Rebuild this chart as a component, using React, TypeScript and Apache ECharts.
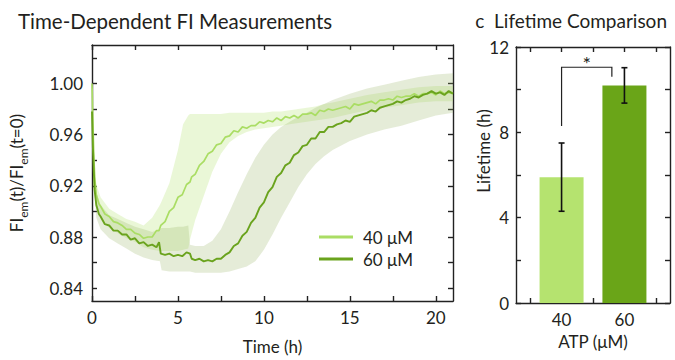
import React, { useEffect, useRef } from 'react';
import * as echarts from 'echarts';

// ---------- Panel b: time-dependent FI ----------
const lineTime = [
  0, 0.05, 0.1, 0.15, 0.25, 0.4, 0.5, 0.75, 1, 1.25,
  1.5, 1.75, 2, 2.25, 2.5, 2.75, 3, 3.25, 3.5, 3.75,
  3.9, 4.0, 4.25, 4.5, 4.75, 5, 5.25, 5.5, 5.7, 5.8,
  6, 6.25, 6.5, 6.75, 7, 7.25, 7.5, 7.75, 8, 8.25,
  8.5, 8.75, 9, 9.25, 9.5, 9.75, 10, 10.25, 10.5, 10.75,
  11, 11.25, 11.5, 11.75, 12, 12.25, 12.5, 12.75, 13, 13.25,
  13.5, 13.75, 14, 14.25, 14.5, 14.75, 15, 15.25, 15.5, 15.75,
  16, 16.25, 16.5, 16.75, 17, 17.25, 17.5, 17.75, 18, 18.25,
  18.5, 18.75, 19, 19.25, 19.5, 19.75, 20, 20.25, 20.5, 20.75,
  21,
];
const fi40 = [
  1.000, 0.971, 0.945, 0.927, 0.913, 0.906, 0.904, 0.898, 0.896, 0.892,
  0.891, 0.889, 0.886, 0.886, 0.883, 0.882, 0.879, 0.880, 0.880, 0.885,
  0.885, 0.889, 0.892, 0.900, 0.903, 0.911, 0.913, 0.921, 0.923, 0.927,
  0.929, 0.936, 0.939, 0.945, 0.947, 0.952, 0.953, 0.958, 0.959, 0.963,
  0.962, 0.966, 0.965, 0.967, 0.967, 0.970, 0.969, 0.971, 0.970, 0.973,
  0.971, 0.974, 0.973, 0.975, 0.973, 0.976, 0.976, 0.977, 0.975, 0.979,
  0.978, 0.980, 0.979, 0.980, 0.981, 0.982, 0.980, 0.984, 0.983, 0.984,
  0.985, 0.986, 0.984, 0.987, 0.987, 0.988, 0.987, 0.990, 0.989, 0.990,
  0.990, 0.992, 0.990, 0.992, 0.992, 0.993, 0.991, 0.994, 0.992, 0.993,
  0.992,
];
const fi60 = [
  0.978, 0.951, 0.933, 0.917, 0.905, 0.898, 0.896, 0.890, 0.889, 0.885,
  0.885, 0.882, 0.882, 0.878, 0.879, 0.875, 0.876, 0.873, 0.874, 0.872,
  0.876, 0.867, 0.866, 0.867, 0.865, 0.866, 0.865, 0.868, 0.867, 0.863,
  0.862, 0.863, 0.861, 0.862, 0.861, 0.863, 0.863, 0.866, 0.868, 0.873,
  0.875, 0.881, 0.884, 0.891, 0.895, 0.903, 0.907, 0.915, 0.919, 0.927,
  0.930, 0.936, 0.938, 0.944, 0.946, 0.951, 0.952, 0.957, 0.957, 0.962,
  0.962, 0.966, 0.966, 0.968, 0.969, 0.971, 0.970, 0.974, 0.975, 0.976,
  0.977, 0.979, 0.978, 0.981, 0.982, 0.983, 0.984, 0.986, 0.985, 0.987,
  0.988, 0.990, 0.989, 0.991, 0.992, 0.994, 0.992, 0.993, 0.991, 0.994,
  0.992,
];

const bandTime = [
  0, 0.1, 0.25, 0.5, 1, 1.5, 2, 2.5, 3, 3.5,
  3.95, 4.05, 4.5, 5, 5.3, 5.6, 5.7, 6, 6.5, 7,
  7.5, 8, 8.5, 9, 9.5, 10, 10.5, 11, 11.5, 12,
  12.5, 13, 13.5, 14, 15, 16, 17, 18, 19, 20,
  21,
];
const band40Low = [
  1.000, 0.938, 0.905, 0.896, 0.887, 0.883, 0.879, 0.876, 0.872, 0.870,
  0.869, 0.869, 0.869, 0.869, 0.870, 0.871, 0.878, 0.893, 0.912, 0.931,
  0.945, 0.954, 0.959, 0.962, 0.964, 0.965, 0.966, 0.967, 0.968, 0.969,
  0.970, 0.971, 0.972, 0.973, 0.976, 0.979, 0.981, 0.983, 0.985, 0.986,
  0.986,
];
const band40High = [
  1.000, 0.952, 0.921, 0.911, 0.902, 0.898, 0.894, 0.892, 0.889, 0.895,
  0.905, 0.908, 0.922, 0.948, 0.968, 0.975, 0.976, 0.976, 0.976, 0.976,
  0.976, 0.977, 0.977, 0.977, 0.977, 0.977, 0.978, 0.978, 0.979, 0.980,
  0.981, 0.982, 0.984, 0.985, 0.988, 0.991, 0.993, 0.995, 0.997, 0.998,
  0.998,
];
const band60Low = [
  0.978, 0.924, 0.895, 0.886, 0.879, 0.875, 0.871, 0.867, 0.864, 0.862,
  0.861, 0.854, 0.853, 0.853, 0.853, 0.853, 0.853, 0.852, 0.852, 0.852,
  0.852, 0.853, 0.855, 0.857, 0.861, 0.870, 0.882, 0.895, 0.907, 0.919,
  0.929, 0.937, 0.943, 0.948, 0.955, 0.960, 0.964, 0.967, 0.971, 0.975,
  0.977,
];
const band60High = [
  0.978, 0.942, 0.915, 0.905, 0.897, 0.894, 0.891, 0.888, 0.886, 0.884,
  0.886, 0.887, 0.887, 0.888, 0.888, 0.889, 0.874, 0.873, 0.873, 0.877,
  0.886, 0.900, 0.915, 0.929, 0.942, 0.952, 0.960, 0.966, 0.970, 0.974,
  0.977, 0.981, 0.984, 0.987, 0.992, 0.996, 0.999, 1.002, 1.005, 1.007,
  1.008,
];

const timeTicks = [0, 2.5, 5, 7.5, 10, 12.5, 15, 17.5, 20];
const timeLabels = [0, 5, 10, 15, 20];
const fiTicks = [0.84, 0.86, 0.88, 0.9, 0.92, 0.94, 0.96, 0.98, 1.0, 1.02];
const fiLabels = [0.84, 0.88, 0.92, 0.96, 1.0];
const seriesNames = ['40 \u03bcM', '60 \u03bcM'];

// ---------- Panel c: lifetime comparison ----------
const atpValues = [40, 60];
const lifetime = [5.9, 10.2];
const lifetimeErr = [1.6, 0.83];
const atpTicks = [30, 40, 50, 60, 70];
const sigBracket = [40, 56, 11.05, 8.3, 10.6]; // x1, x2, top, left foot, right foot

const FONT = 'Lato';
const TXT = '#231f20';
const C40 = '#aadd64';
const C60 = '#6aa31d';
const BAR40 = '#b5e36f';
const BAR60 = '#6aa518';
const BAND40 = 'rgba(200,235,150,0.38)';
const BAND60 = 'rgba(150,178,100,0.25)';

const frameLine = { show: true, onZero: false, lineStyle: { color: '#222', width: 1.4 } };

function bandRenderer(low: number[], high: number[], fill: string) {
  return (_params: any, api: any) => {
    const pts: number[][] = [];
    for (let i = 0; i < bandTime.length; i++) pts.push(api.coord([bandTime[i], high[i]]));
    for (let i = bandTime.length - 1; i >= 0; i--) pts.push(api.coord([bandTime[i], low[i]]));
    return { type: 'polygon', shape: { points: pts }, style: { fill }, silent: true };
  };
}

export default function App() {
  const ref = useRef<HTMLDivElement>(null);
  useEffect(() => {
    if (!ref.current) return;
    const chart = echarts.init(ref.current, undefined, { renderer: 'svg' });
    const tick = (vals: number[]) => ({
      show: true,
      inside: true,
      length: 5,
      customValues: vals,
      lineStyle: { color: '#222', width: 1.4 },
    });
    const labelStyle = { fontFamily: FONT, fontSize: 17, color: TXT };
    const nameStyle = { fontFamily: FONT, fontSize: 17, color: TXT };
    const option: any = {
      animation: false,
      backgroundColor: '#fff',
      textStyle: { fontFamily: FONT },
      title: [
        { text: 'Time-Dependent FI Measurements', left: 13, top: 5, textStyle: { fontFamily: FONT, fontSize: 20.5, fontWeight: 'normal', color: TXT } },
        { text: 'c  Lifetime Comparison', right: 3, top: 6, textStyle: { fontFamily: FONT, fontSize: 19, fontWeight: 'normal', color: TXT } },
      ],
      legend: {
        data: seriesNames,
        orient: 'vertical',
        left: 314,
        top: 223,
        icon: 'rect',
        itemWidth: 34,
        itemHeight: 3,
        itemGap: 4,
        textStyle: { fontFamily: FONT, fontSize: 17, color: TXT, padding: [0, 0, 0, 5], lineHeight: 18 },
      },
      grid: [
        { left: 90, top: 45, width: 363, height: 258 },
        { left: 516, top: 47, width: 154, height: 256 },
      ],
      xAxis: [
        {
          gridIndex: 0, type: 'value', min: 0, max: 21, position: 'bottom',
          axisLine: frameLine, axisTick: tick(timeTicks), splitLine: { show: false },
          axisLabel: { ...labelStyle, customValues: timeLabels, margin: 8 },
          name: 'Time (h)', nameLocation: 'middle', nameGap: 37, nameTextStyle: nameStyle,
        },
        {
          gridIndex: 0, type: 'value', min: 0, max: 21, position: 'top',
          axisLine: frameLine, axisTick: tick(timeTicks), splitLine: { show: false },
          axisLabel: { show: false },
        },
        {
          gridIndex: 1, type: 'value', min: 25.5, max: 74.5, position: 'bottom',
          axisLine: frameLine, axisTick: tick(atpTicks), splitLine: { show: false },
          axisLabel: { ...labelStyle, customValues: atpValues, margin: 8 },
          name: 'ATP (\u03bcM)', nameLocation: 'middle', nameGap: 30, nameTextStyle: nameStyle,
        },
        {
          gridIndex: 1, type: 'value', min: 25.5, max: 74.5, position: 'top',
          axisLine: frameLine, axisTick: tick(atpTicks), splitLine: { show: false },
          axisLabel: { show: false },
        },
      ],
      yAxis: [
        {
          gridIndex: 0, type: 'value', min: 0.83, max: 1.03, position: 'left',
          axisLine: frameLine, axisTick: tick(fiTicks), splitLine: { show: false },
          axisLabel: { ...labelStyle, customValues: fiLabels, margin: 9, formatter: (v: number) => v.toFixed(2) },
          name: '{n|FI}{s|em}{n|(t)/FI}{s|em}{n|(t=0)}', nameLocation: 'middle', nameGap: 63,
          nameTextStyle: {
            fontFamily: FONT, fontSize: 17, color: TXT,
            rich: {
              n: { fontFamily: FONT, fontSize: 17, color: TXT, lineHeight: 25 },
              s: { fontFamily: FONT, fontSize: 12, color: TXT, lineHeight: 13, verticalAlign: 'bottom' },
            },
          },
        },
        {
          gridIndex: 0, type: 'value', min: 0.83, max: 1.03, position: 'right',
          axisLine: frameLine, axisTick: tick(fiTicks), splitLine: { show: false },
          axisLabel: { show: false },
        },
        {
          gridIndex: 1, type: 'value', min: 0, max: 12, interval: 2, position: 'left',
          axisLine: frameLine, axisTick: { show: true, inside: true, length: 5, lineStyle: { color: '#222', width: 1.4 } },
          splitLine: { show: false },
          axisLabel: { ...labelStyle, margin: 7, formatter: (v: number) => (v % 4 === 0 ? String(v) : '') },
        },
        {
          gridIndex: 1, type: 'value', min: 0, max: 12, interval: 2, position: 'right',
          axisLine: frameLine, axisTick: { show: true, inside: true, length: 5, lineStyle: { color: '#222', width: 1.4 } },
          splitLine: { show: false }, axisLabel: { show: false },
        },
      ],
      graphic: [
        {
          type: 'text', x: 483, y: 151, rotation: Math.PI / 2,
          style: { text: 'Lifetime (h)', fontFamily: FONT, fontSize: 17, fill: TXT, textAlign: 'center', textVerticalAlign: 'middle' },
        },
      ],
      series: [
        {
          type: 'custom', name: 'band40', xAxisIndex: 0, yAxisIndex: 0, clip: true, silent: true,
          data: [[bandTime[0], band40Low[0]]], renderItem: bandRenderer(band40Low, band40High, BAND40), z: 1,
        },
        {
          type: 'custom', name: 'band60', xAxisIndex: 0, yAxisIndex: 0, clip: true, silent: true,
          data: [[bandTime[0], band60Low[0]]], renderItem: bandRenderer(band60Low, band60High, BAND60), z: 1,
        },
        {
          type: 'line', name: seriesNames[0], xAxisIndex: 0, yAxisIndex: 0, showSymbol: false, clip: true,
          data: lineTime.map((t, i) => [t, fi40[i]]), lineStyle: { color: C40, width: 1.7 }, itemStyle: { color: C40 }, z: 3,
        },
        {
          type: 'line', name: seriesNames[1], xAxisIndex: 0, yAxisIndex: 0, showSymbol: false, clip: true,
          data: lineTime.map((t, i) => [t, fi60[i]]), lineStyle: { color: C60, width: 1.9 }, itemStyle: { color: C60 }, z: 4,
        },
        {
          type: 'bar', name: 'lifetime', xAxisIndex: 2, yAxisIndex: 2, barWidth: 44,
          data: atpValues.map((a, i) => ({ value: [a, lifetime[i]], itemStyle: { color: i === 0 ? BAR40 : BAR60 } })),
        },
        {
          type: 'custom', name: 'err', xAxisIndex: 2, yAxisIndex: 2, z: 5,
          data: atpValues.map((a, i) => [a, lifetime[i] - lifetimeErr[i], lifetime[i] + lifetimeErr[i]]),
          renderItem: (_p: any, api: any) => {
            const x = api.value(0);
            const top = api.coord([x, api.value(2)]);
            const bot = api.coord([x, api.value(1)]);
            const st = { stroke: '#111', lineWidth: 1.6 };
            return {
              type: 'group',
              children: [
                { type: 'line', shape: { x1: top[0], y1: top[1], x2: bot[0], y2: bot[1] }, style: st },
                { type: 'line', shape: { x1: top[0] - 3, y1: top[1], x2: top[0] + 3, y2: top[1] }, style: st },
                { type: 'line', shape: { x1: bot[0] - 3, y1: bot[1], x2: bot[0] + 3, y2: bot[1] }, style: st },
              ],
            };
          },
        },
        {
          type: 'custom', name: 'sig', xAxisIndex: 2, yAxisIndex: 2, z: 5,
          data: [sigBracket],
          renderItem: (_p: any, api: any) => {
            const x1 = api.value(0), x2 = api.value(1), yt = api.value(2), yl = api.value(3), yr = api.value(4);
            const a = api.coord([x1, yl]);
            const b = api.coord([x1, yt]);
            const c = api.coord([x2, yt]);
            const d = api.coord([x2, yr]);
            return {
              type: 'group',
              children: [
                { type: 'polyline', shape: { points: [a, b, c, d] }, style: { stroke: '#222', lineWidth: 1.2, fill: 'none' } },
                {
                  type: 'text', x: (b[0] + c[0]) / 2, y: b[1] + 6,
                  style: { text: '*', fontFamily: FONT, fontSize: 20, fill: TXT, textAlign: 'center', textVerticalAlign: 'bottom' },
                },
              ],
            };
          },
        },
      ],
    };
    chart.setOption(option);
    return () => chart.dispose();
  }, []);
  return <div ref={ref} style={{ position: 'fixed', left: 0, top: 0, width: 675, height: 360 }} />;
}
